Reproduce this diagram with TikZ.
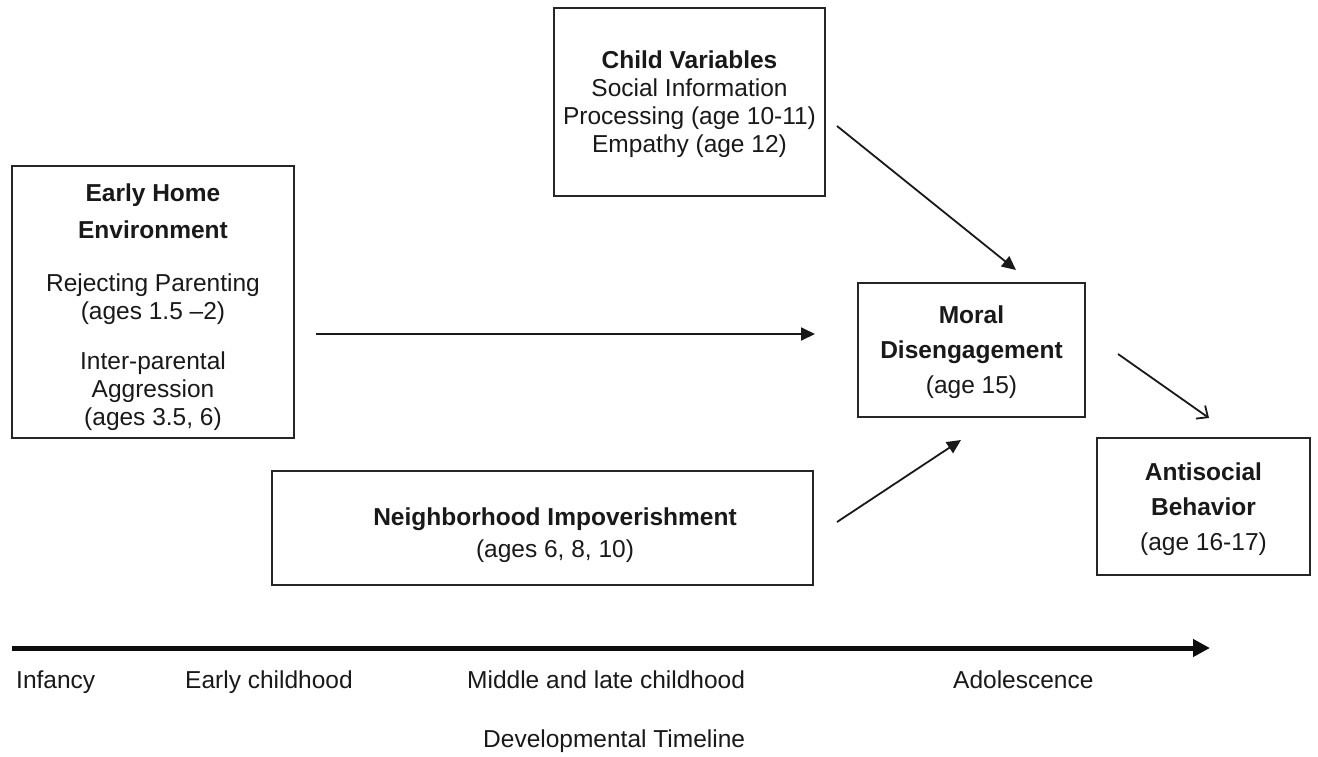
\documentclass[tikz,border=0pt]{standalone}
\usepackage{fontspec}
\setmainfont{Liberation Sans}
\usetikzlibrary{arrows.meta}
\tikzset{
  box/.style={draw=black!85, line width=1.7pt, fill=none, inner sep=0pt},
  txt/.style={align=center, font=\fontsize{24.5}{28}\selectfont, inner sep=0pt, text=black!90},
  lbl/.style={font=\fontsize{24.5}{28}\selectfont, inner sep=0pt, text=black!90},
  conn/.style={line width=1.8pt, draw=black!90, -{Triangle[length=14pt,width=13pt]}},
  openconn/.style={line width=1.8pt, draw=black!90, -{Straight Barb[length=9pt,width=16pt,line width=1.8pt]}},
  timeline/.style={line width=5pt, draw=black!95, -{Triangle[length=17pt,width=17pt]}}
}
\begin{document}
\begin{tikzpicture}[x=1pt,y=-1pt]
\useasboundingbox (0,0) rectangle (1318,756);
% boxes
\node[box, minimum width=282pt, minimum height=272pt] (eh) at (153,302) {};
\node[box, minimum width=271pt, minimum height=188pt] (cv) at (689.5,102) {};
\node[box, minimum width=227pt, minimum height=134pt] (md) at (971.5,350) {};
\node[box, minimum width=213pt, minimum height=137pt] (ab) at (1203.5,506.5) {};
\node[box, minimum width=541pt, minimum height=114pt] (nb) at (542.5,528) {};
% texts
\node[txt] (ehtext) at (153,307) {\textbf{Early Home}\\[9pt]\textbf{Environment}\\[25pt]Rejecting Parenting\\(ages 1.5 \textendash2)\\[22pt]Inter-parental\\Aggression\\(ages 3.5, 6)};
\node[txt] (cvtext) at (689.5,104) {\textbf{Child Variables}\\Social Information\\Processing (age 10-11)\\Empathy (age 12)};
\node[txt] (mdtext) at (971.5,352.5) {\textbf{Moral}\\[7pt]\textbf{Disengagement}\\[7pt](age 15)};
\node[txt] (abtext) at (1203.5,509.5) {\textbf{Antisocial}\\[7pt]\textbf{Behavior}\\[7pt](age 16-17)};
\node[txt] (nbtext) at (555,535) {\textbf{Neighborhood Impoverishment}\\[4pt](ages 6, 8, 10)};
% arrow end points
\coordinate (a1s) at (316,334);
\coordinate (a1e) at (815,334);
\coordinate (a2s) at (837,126);
\coordinate (a2e) at (1016,270);
\coordinate (a3s) at (837,522);
\coordinate (a3e) at (961,440);
\coordinate (a4s) at (1118,354);
\coordinate (a4e) at (1209,418);
\coordinate (ts) at (12,648);
\coordinate (te) at (1210,648);
\draw[conn] (a1s) -- (a1e);
\draw[conn] (a2s) -- (a2e);
\draw[conn] (a3s) -- (a3e);
\draw[openconn] (a4s) -- (a4e);
\draw[timeline] (ts) -- (te);
% timeline labels
\node[lbl, anchor=base west] (inf) at (16,688) {Infancy};
\node[lbl, anchor=base west] (ec) at (185,688) {Early childhood};
\node[lbl, anchor=base west] (mlc) at (467,688) {Middle and late childhood};
\node[lbl, anchor=base west] (ado) at (953,688) {Adolescence};
\node[lbl, anchor=base west] (dt) at (483,747) {Developmental Timeline};
\end{tikzpicture}
\end{document}
